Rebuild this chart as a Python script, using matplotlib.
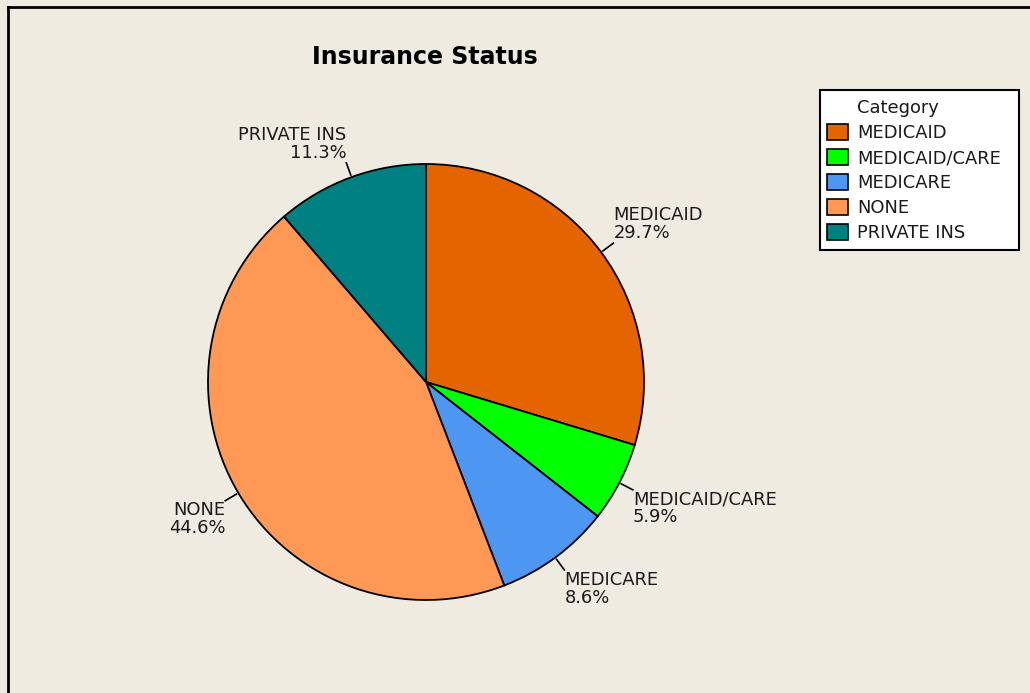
import numpy as np
import matplotlib
matplotlib.use("Agg")
import matplotlib.pyplot as plt
from matplotlib.patches import Patch, Rectangle
from matplotlib.lines import Line2D

categories = ["MEDICAID", "MEDICAID/CARE", "MEDICARE", "NONE", "PRIVATE INS"]
percents = [29.7, 5.9, 8.6, 44.6, 11.3]
colors = ["#E46400", "#00FF00", "#4D96F2", "#FF9955", "#008080"]

bg = "#EFEBE1"
plt.rcParams["font.family"] = ["DejaVu Sans"]

W, H = 1030, 693
fig = plt.figure(figsize=(W / 100, H / 100), dpi=100, facecolor=bg)

# frame lines (top and left visible in the reference)
fig.add_artist(Line2D([8 / W, 8 / W], [0, 1 - 7 / H], transform=fig.transFigure, color="black", lw=2))
fig.add_artist(Line2D([8 / W, 1], [1 - 7 / H, 1 - 7 / H], transform=fig.transFigure, color="black", lw=2))

# pie axes: centre (426, 382) px, radius 218 px
cx, cy, r = 426 / W, 1 - 382 / H, 218
ax = fig.add_axes([cx - r / W, cy - r / H, 2 * r / W, 2 * r / H])
ax.set_facecolor(bg)
wedges, _ = ax.pie(percents, colors=colors, startangle=90, counterclock=False,
                   wedgeprops=dict(edgecolor="black", linewidth=1.3))
ax.set_xlim(-1, 1)
ax.set_ylim(-1, 1)
ax.set_aspect("equal")
ax.axis("off")

# outside labels with short leader lines
cum = 0.0
for name, p in zip(categories, percents):
    mid = cum + p / 2
    cum += p
    ang = np.deg2rad(90 - mid / 100 * 360)
    c, s = np.cos(ang), np.sin(ang)
    ax.plot([1.01 * c, 1.07 * c], [1.01 * s, 1.07 * s], color="black", lw=1.2, clip_on=False)
    ha = "left" if c > 0 else "right"
    va = "bottom" if s > 0 else "top"
    ax.text(1.07 * c, 1.075 * s, f"{name}\n{p}%", ha=ha, va=va, multialignment=ha,
            fontsize=12.9, color="#1a1a1a", linespacing=1.0, clip_on=False)

fig.text(425 / W, 1 - 57 / H, "Insurance Status", ha="center", va="center",
         fontsize=17, fontweight="bold", color="black")

# legend box
fig.add_artist(Rectangle((820 / W, 1 - 250 / H), 199 / W, 160 / H, transform=fig.transFigure,
                         facecolor="white", edgecolor="black", linewidth=1.5))
handles = [Patch(facecolor="none", edgecolor="none")]
handles += [Patch(facecolor=col, edgecolor="black", linewidth=1.2) for col in colors]
labels = ["Category"] + categories
leg = fig.legend(handles, labels, loc="upper left", bbox_to_anchor=(827 / W, 1 - 99 / H),
                 fontsize=12.9, frameon=False, handlelength=1.15, handleheight=1.0,
                 handletextpad=0.55, labelspacing=0.38, borderpad=0.0, borderaxespad=0)
for t in leg.get_texts():
    t.set_color("#1a1a1a")

fig.savefig("out.png", dpi=100, facecolor=bg)
